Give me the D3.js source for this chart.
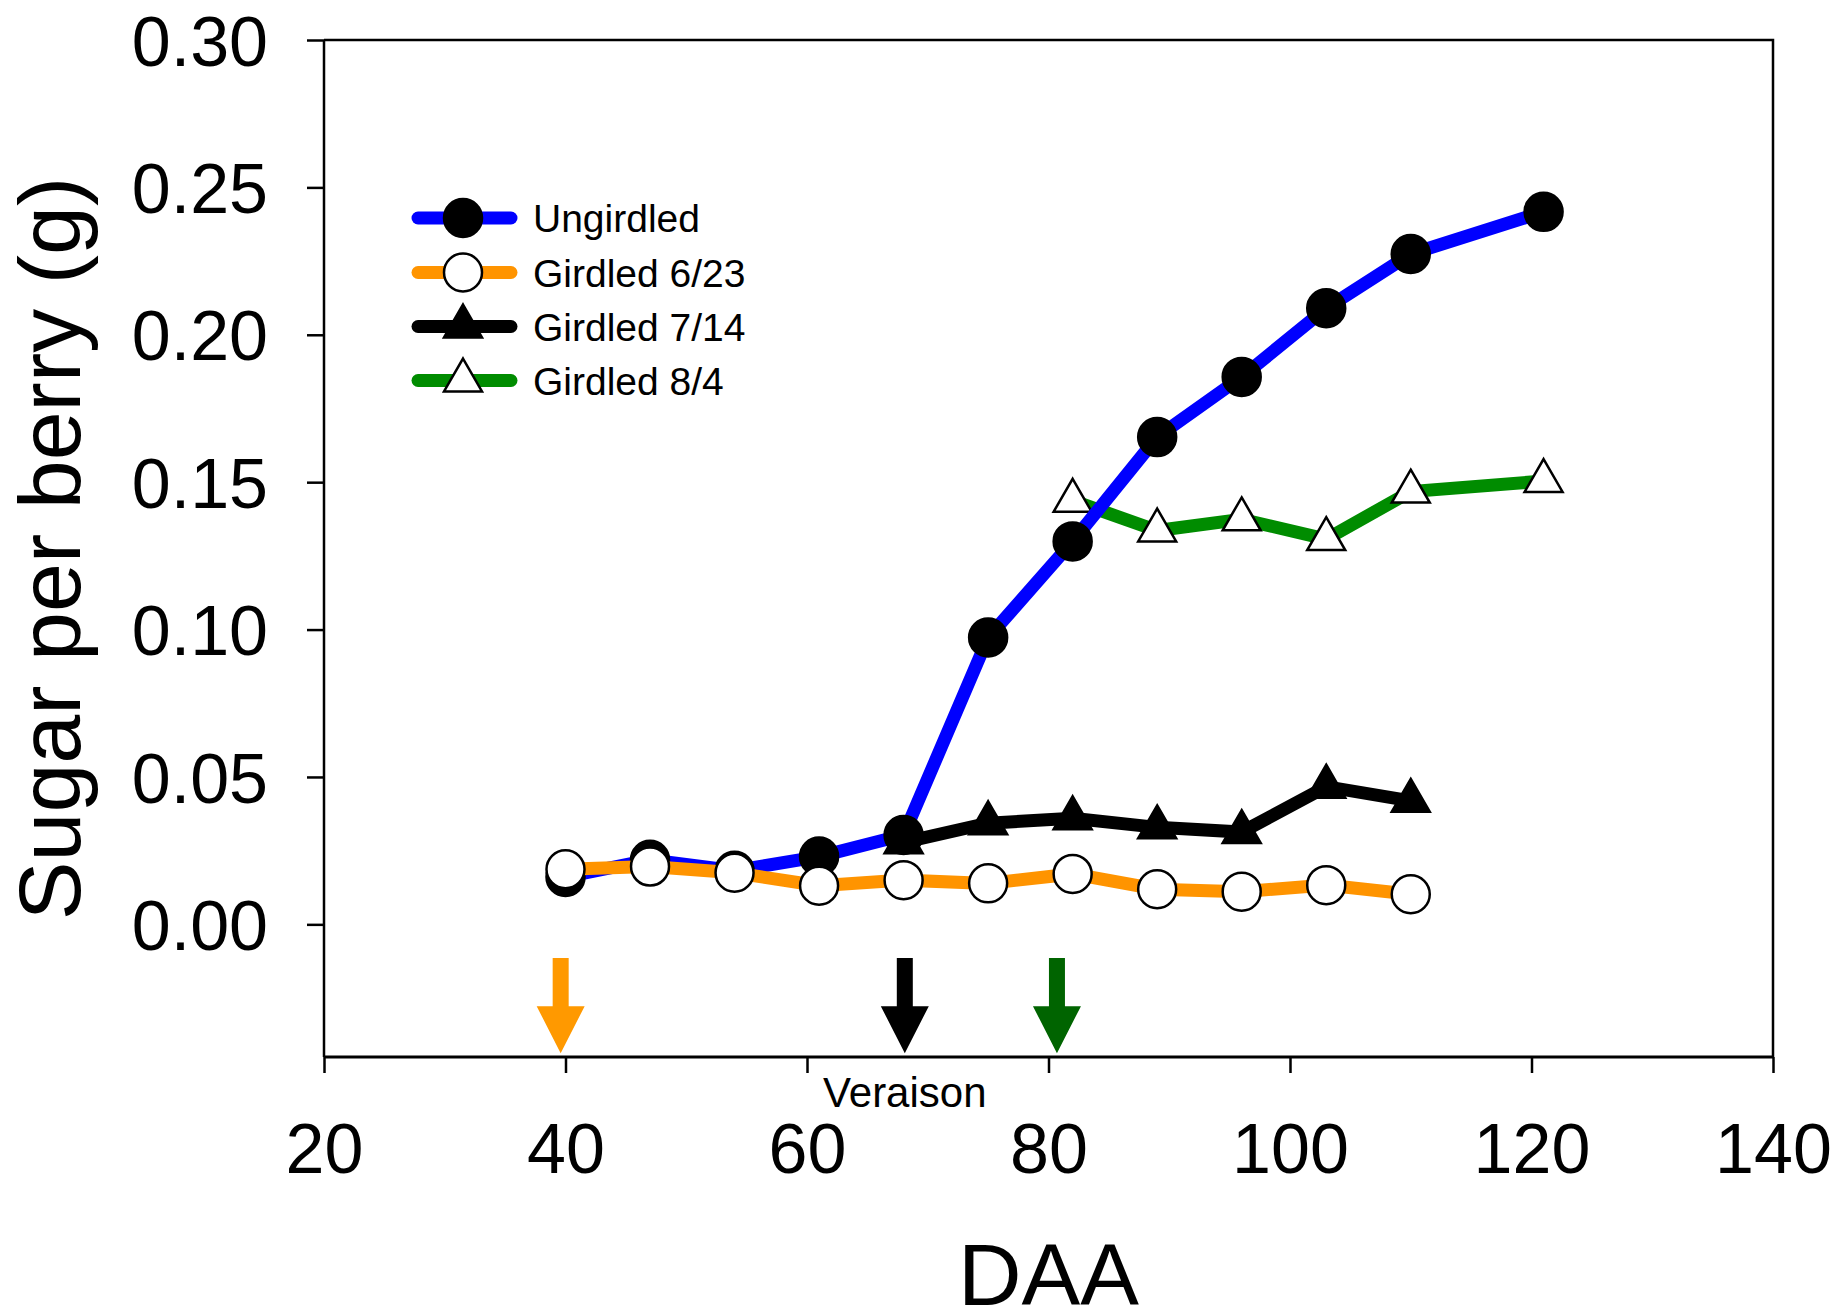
<!DOCTYPE html>
<html lang="en">
<head>
  <meta charset="UTF-8" />
  <title>Sugar per berry</title>
  <script src="https://cdn.jsdelivr.net/npm/d3@7"></script>
  <style>
    body { margin: 0; background: #fff; }
    svg text { font-family: "Liberation Sans", Arial, sans-serif; fill: #000; }
  </style>
</head>
<body>
  <svg id="chart" width="1848" height="1313"></svg>
  <script>
    // Values (DAA = days after anthesis)
    var daaUngirdled = [40, 47, 54, 61, 68, 75, 82, 89, 96, 103, 110, 121];
    var sugarUngirdled = [0.0161, 0.0219, 0.0182, 0.0230, 0.0303, 0.0973, 0.1299, 0.1653, 0.1857, 0.2090, 0.2274, 0.2417];

    var daaGirdled623 = [40, 47, 54, 61, 68, 75, 82, 89, 96, 103, 110];
    var sugarGirdled623 = [0.0187, 0.0196, 0.0175, 0.0131, 0.0150, 0.0139, 0.0171, 0.0119, 0.0111, 0.0133, 0.0102];

    var daaGirdled714 = [68, 75, 82, 89, 96, 103, 110];
    var sugarGirdled714 = [0.0278, 0.0343, 0.0360, 0.0329, 0.0313, 0.0467, 0.0419];

    var daaGirdled84 = [82, 89, 96, 103, 110, 121];
    var sugarGirdled84 = [0.1437, 0.1336, 0.1374, 0.1307, 0.1468, 0.1504];

    var seriesNames = ["Ungirdled", "Girdled 6/23", "Girdled 7/14", "Girdled 8/4"];

    // girdling-date arrows below the zero line
    var arrowDaa = [39.6, 68.1, 80.7];
    var arrowTopValue = -0.0114;
    var arrowTipValue = -0.0437;

    var xTicks = [20, 40, 60, 80, 100, 120, 140];
    var yTicks = [0, 0.05, 0.10, 0.15, 0.20, 0.25, 0.30];

    var svg = d3.select("#chart");
    // note: "top" is a reserved window property, so use plot* names
    var plotL = 324, plotR = 1773, plotT = 40, plotB = 1057;

    var x = d3.scaleLinear().domain([20, 140]).range([plotL, plotR]);
    var y = d3.scaleLinear().domain([-0.045, 0.30]).range([plotB, plotT]);

    // frame (top and right)
    svg.append("path")
      .attr("d", "M" + plotL + "," + plotT + "H" + plotR + "V" + plotB)
      .attr("fill", "none").attr("stroke", "#000").attr("stroke-width", 2.5);

    var yAxis = svg.append("g")
      .attr("transform", "translate(" + plotL + ",0)")
      .call(d3.axisLeft(y).tickValues(yTicks).tickFormat(d3.format(".2f")).tickSize(17).tickPadding(39));
    yAxis.select(".domain").attr("stroke-width", 2.5).attr("d", "M0," + plotT + "V" + plotB);
    yAxis.selectAll(".tick line").attr("stroke-width", 2.5);
    yAxis.selectAll(".tick text").attr("font-size", 70).attr("dy", "0.36em")
      .style("font-family", "'Liberation Sans', Arial, sans-serif");

    var xAxis = svg.append("g")
      .attr("transform", "translate(0," + plotB + ")")
      .call(d3.axisBottom(x).tickValues(xTicks).tickFormat(d3.format("d")).tickSize(16).tickPadding(50));
    xAxis.select(".domain").attr("stroke-width", 3).attr("d", "M" + plotL + ",0H" + plotR);
    xAxis.selectAll(".tick line").attr("stroke-width", 2.5);
    xAxis.selectAll(".tick text").attr("font-size", 70)
      .style("font-family", "'Liberation Sans', Arial, sans-serif");

    // axis titles
    svg.append("text")
      .attr("x", (plotL + plotR) / 2).attr("y", 1305)
      .attr("text-anchor", "middle").attr("font-size", 88)
      .text("DAA");
    svg.append("text")
      .attr("transform", "translate(80," + (plotT + plotB) / 2 + ") rotate(-90)")
      .attr("text-anchor", "middle").attr("font-size", 88)
      .text("Sugar per berry (g)");
    svg.append("text")
      .attr("x", x(68.1)).attr("y", 1107)
      .attr("text-anchor", "middle").attr("font-size", 42)
      .text("Veraison");

    // arrows
    var arrowColors = ["#ff9900", "#000000", "#006400"];
    arrowDaa.forEach(function (d, i) {
      var cx = x(d), y0 = y(arrowTopValue), y1 = y(arrowTipValue), headH = 47;
      var sw = 8, hw = 24;
      svg.append("path")
        .attr("d", "M" + (cx - sw) + "," + y0 + "H" + (cx + sw) + "V" + (y1 - headH) +
          "H" + (cx + hw) + "L" + cx + "," + y1 + "L" + (cx - hw) + "," + (y1 - headH) +
          "H" + (cx - sw) + "Z")
        .attr("fill", arrowColors[i]);
    });

    var circleSym = d3.symbol().type(d3.symbolCircle).size(Math.PI * 19 * 19);
    var triSym = d3.symbol().type(d3.symbolTriangle).size(625);

    var styles = {
      "Ungirdled": { line: "#0000ff", sym: circleSym, fill: "#000" },
      "Girdled 6/23": { line: "#ff9400", sym: circleSym, fill: "#fff" },
      "Girdled 7/14": { line: "#000000", sym: triSym, fill: "#000" },
      "Girdled 8/4": { line: "#008c00", sym: triSym, fill: "#fff" }
    };

    var seriesData = {
      "Ungirdled": d3.zip(daaUngirdled, sugarUngirdled),
      "Girdled 6/23": d3.zip(daaGirdled623, sugarGirdled623),
      "Girdled 7/14": d3.zip(daaGirdled714, sugarGirdled714),
      "Girdled 8/4": d3.zip(daaGirdled84, sugarGirdled84)
    };

    var line = d3.line().x(function (d) { return x(d[0]); }).y(function (d) { return y(d[1]); });

    // drawing order as in the figure
    ["Girdled 8/4", "Ungirdled", "Girdled 7/14", "Girdled 6/23"].forEach(function (name) {
      var st = styles[name];
      var g = svg.append("g");
      g.append("path")
        .datum(seriesData[name])
        .attr("d", line)
        .attr("fill", "none")
        .attr("stroke", st.line)
        .attr("stroke-width", 13)
        .attr("stroke-linejoin", "miter");
      g.selectAll("path.pt")
        .data(seriesData[name])
        .join("path")
        .attr("class", "pt")
        .attr("transform", function (d) { return "translate(" + x(d[0]) + "," + y(d[1]) + ")"; })
        .attr("d", st.sym)
        .attr("fill", st.fill)
        .attr("stroke", "#000")
        .attr("stroke-width", 2.5);
    });

    // legend
    var legend = svg.append("g");
    var rowY = [218, 272.5, 326.5, 380.5];
    seriesNames.forEach(function (name, i) {
      var st = styles[name];
      legend.append("line")
        .attr("x1", 418).attr("x2", 511).attr("y1", rowY[i]).attr("y2", rowY[i])
        .attr("stroke", st.line).attr("stroke-width", 13).attr("stroke-linecap", "round");
      legend.append("path")
        .attr("transform", "translate(463," + rowY[i] + ")")
        .attr("d", st.sym)
        .attr("fill", st.fill).attr("stroke", "#000").attr("stroke-width", 2.5);
      legend.append("text")
        .attr("x", 533).attr("y", rowY[i] + 14)
        .attr("font-size", 39)
        .text(name);
    });
  </script>
</body>
</html>
